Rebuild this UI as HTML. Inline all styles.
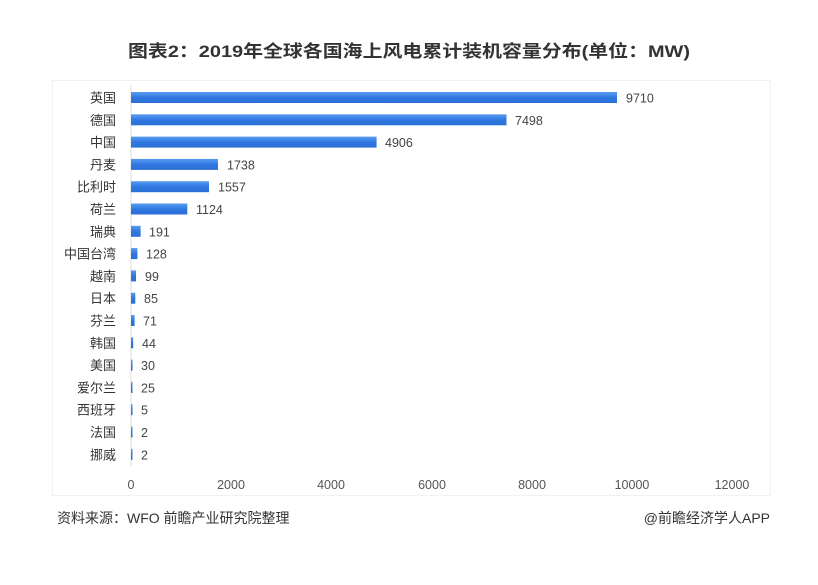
<!DOCTYPE html>
<html><head><meta charset="utf-8"><style>
body{margin:0;background:#fff;}
svg text{font-family:"Liberation Sans","Noto Sans CJK SC",sans-serif;}
</style></head><body>
<svg width="818" height="580" xmlns="http://www.w3.org/2000/svg">
<defs><linearGradient id="g" x1="0" y1="0" x2="0" y2="1"><stop offset="0" stop-color="#5a9cf0"/><stop offset="0.5" stop-color="#2f78e0"/><stop offset="1" stop-color="#2a6fd6"/></linearGradient></defs>
<text x="128" y="57" font-size="17" font-weight="bold" fill="#333" textLength="562" lengthAdjust="spacingAndGlyphs">图表2：2019年全球各国海上风电累计装机容量分布(单位：MW)</text>
<rect x="52.5" y="80.5" width="718" height="415" fill="none" stroke="#eef2f8"/>
<line x1="131" y1="85" x2="131" y2="466" stroke="#ddd"/>
<g font-size="13" fill="#333" text-anchor="end">
<text x="116" y="102.5">英国</text>
<text x="116" y="124.8">德国</text>
<text x="116" y="147.1">中国</text>
<text x="116" y="169.4">丹麦</text>
<text x="116" y="191.7">比利时</text>
<text x="116" y="214">荷兰</text>
<text x="116" y="236.3">瑞典</text>
<text x="116" y="258.6">中国台湾</text>
<text x="116" y="280.9">越南</text>
<text x="116" y="303.2">日本</text>
<text x="116" y="325.5">芬兰</text>
<text x="116" y="347.8">韩国</text>
<text x="116" y="370.1">美国</text>
<text x="116" y="392.4">爱尔兰</text>
<text x="116" y="414.7">西班牙</text>
<text x="116" y="437">法国</text>
<text x="116" y="459.3">挪威</text>
</g>
<g fill="url(#g)">
<rect x="131" y="92" width="486" height="11"/>
<rect x="131" y="114.3" width="375.5" height="11"/>
<rect x="131" y="136.6" width="245.6" height="11"/>
<rect x="131" y="158.9" width="87" height="11"/>
<rect x="131" y="181.2" width="78" height="11"/>
<rect x="131" y="203.5" width="56.3" height="11"/>
<rect x="131" y="225.8" width="9.6" height="11"/>
<rect x="131" y="248.1" width="6.4" height="11"/>
<rect x="131" y="270.4" width="5" height="11"/>
<rect x="131" y="292.7" width="4.3" height="11"/>
<rect x="131" y="315" width="3.6" height="11"/>
<rect x="131" y="337.3" width="2.2" height="11"/>
<rect x="131" y="359.6" width="1.5" height="11"/>
<rect x="131" y="381.9" width="1.5" height="11"/>
<rect x="131" y="404.2" width="1.5" height="11"/>
<rect x="131" y="426.5" width="1.5" height="11"/>
<rect x="131" y="448.8" width="1.5" height="11"/>
</g>
<g font-size="12.5" fill="#444">
<text x="626" y="102.5">9710</text>
<text x="515" y="124.8">7498</text>
<text x="385" y="147.1">4906</text>
<text x="227" y="169.4">1738</text>
<text x="218" y="191.7">1557</text>
<text x="196" y="214">1124</text>
<text x="149" y="236.3">191</text>
<text x="146" y="258.6">128</text>
<text x="145" y="280.9">99</text>
<text x="144" y="303.2">85</text>
<text x="143" y="325.5">71</text>
<text x="142" y="347.8">44</text>
<text x="141" y="370.1">30</text>
<text x="141" y="392.4">25</text>
<text x="141" y="414.7">5</text>
<text x="141" y="437">2</text>
<text x="141" y="459.3">2</text>
</g>
<g font-size="12.5" fill="#555" text-anchor="middle">
<text x="131" y="489">0</text><text x="231" y="489">2000</text><text x="331" y="489">4000</text><text x="432" y="489">6000</text><text x="532" y="489">8000</text><text x="632" y="489">10000</text><text x="732" y="489">12000</text>
</g>
<text x="57" y="523" font-size="14" fill="#333">资料来源：WFO 前瞻产业研究院整理</text>
<text x="770" y="523" font-size="14" fill="#333" text-anchor="end">@前瞻经济学人APP</text>
</svg>
</body></html>
